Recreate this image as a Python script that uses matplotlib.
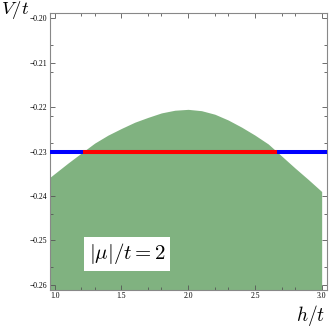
import matplotlib
matplotlib.use("Agg")
import matplotlib.pyplot as plt
import numpy as np

plt.rcParams["mathtext.fontset"] = "cm"
plt.rcParams["font.family"] = "Liberation Serif"

# boundary of the shaded region
h_vals = [0.965, 1.1, 1.215, 1.3, 1.4, 1.5, 1.6, 1.7, 1.8, 1.9, 2.0,
          2.1, 2.2, 2.3, 2.4, 2.5, 2.6, 2.663, 2.7, 2.8, 2.9, 3.0]
v_vals = [-0.2358, -0.2326, -0.2300, -0.2281, -0.2263, -0.2248, -0.2234,
          -0.2223, -0.2213, -0.2207, -0.2205, -0.2208, -0.2216, -0.2229,
          -0.2245, -0.2263, -0.2283, -0.2300, -0.2310, -0.2337, -0.2363,
          -0.2390]

v_level = -0.23
red_h = [1.215, 2.663]

x_ticks = [1.0, 1.5, 2.0, 2.5, 3.0]
x_ticklabels = ["1.0", "1.5", "2.0", "2.5", "3.0"]
x_minor = [1.2, 1.3, 1.7, 1.8, 2.2, 2.3, 2.7, 2.8]
y_ticks = [-0.20, -0.21, -0.22, -0.23, -0.24, -0.25, -0.26]
y_ticklabels = ["\u22120.20", "\u22120.21", "\u22120.22", "\u22120.23",
                "\u22120.24", "\u22120.25", "\u22120.26"]
y_minor = [-0.206, -0.212, -0.222, -0.228, -0.244, -0.256]

fig = plt.figure(figsize=(3.33, 3.28), dpi=100)
ax = fig.add_axes([0.150, 0.117, 0.832, 0.842])

ax.fill_between(h_vals, v_vals, -0.27, color="#80b280", lw=0)
ax.axhline(v_level, color="#0000ff", lw=2.9, zorder=3)
ax.plot(red_h, [v_level, v_level], color="#ff0000", lw=2.9, zorder=4,
        solid_capstyle="butt")

ax.set_xlim(0.965, 3.04)
ax.set_ylim(-0.2611, -0.1989)

ax.set_xticks(x_ticks)
ax.set_xticklabels(x_ticklabels)
ax.set_xticks(x_minor, minor=True)
ax.set_yticks(y_ticks)
ax.set_yticklabels(y_ticklabels)
ax.set_yticks(y_minor, minor=True)
ax.tick_params(which="both", direction="in", top=True, right=True,
               labelsize=5.5, color="#555555", width=0.6, pad=2)
ax.tick_params(which="major", length=3.5)
ax.tick_params(which="minor", length=2)
for s in ax.spines.values():
    s.set_color("#888888")
    s.set_linewidth(0.8)

fig.text(0.003, 0.968, r"$V/t$", fontsize=13.5, va="center", ha="left")
fig.text(0.978, 0.037, r"$h/t$", fontsize=14, va="center", ha="right")
ax.text(0.278, 0.129, r"$|\mu|/t=2$", fontsize=15, transform=ax.transAxes,
        va="center", ha="center",
        bbox=dict(facecolor="white", edgecolor="none", pad=3.5))

fig.savefig("out.png", dpi=100)
